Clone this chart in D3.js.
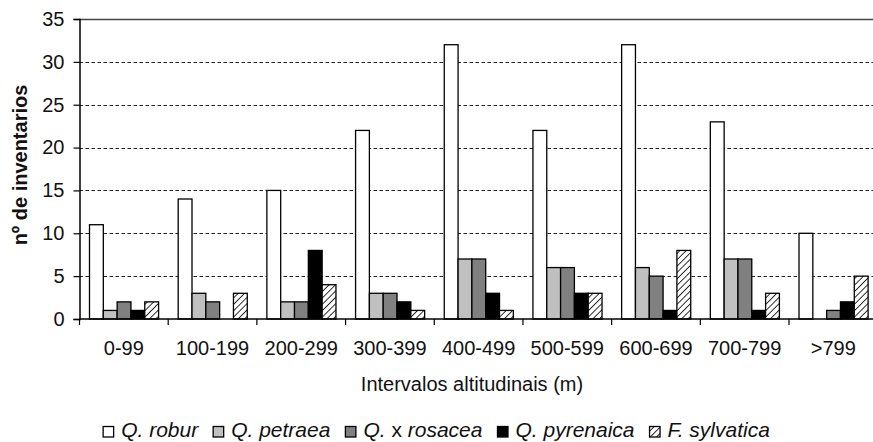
<!DOCTYPE html>
<html>
<head>
<meta charset="utf-8">
<script src="https://cdn.jsdelivr.net/npm/d3@7"></script>
<style>
  html, body { margin: 0; padding: 0; background: #fff; }
  svg { display: block; font-family: Arial, "Liberation Sans", sans-serif; }
</style>
</head>
<body>
<svg id="chart" width="873" height="442"></svg>
<script>
const categories = ["0-99", "100-199", "200-299", "300-399", "400-499", "500-599", "600-699", "700-799", ">799"];
const seriesNames = ["Q. robur", "Q. petraea", "Q. x rosacea", "Q. pyrenaica", "F. sylvatica"];
const robur     = [11, 14, 15, 22, 32, 22, 32, 23, 10];
const petraea   = [1, 3, 2, 3, 7, 6, 6, 7, 0];
const rosacea   = [2, 2, 2, 3, 7, 6, 5, 7, 1];
const pyrenaica = [1, 0, 8, 2, 3, 3, 1, 1, 2];
const sylvatica = [2, 3, 4, 1, 1, 3, 8, 3, 5];
const yTicks = [0, 5, 10, 15, 20, 25, 30, 35];
const xTitle = "Intervalos altitudinais (m)";
const yTitle = "nº de inventarios";

(function () {
const seriesValues = [robur, petraea, rosacea, pyrenaica, sylvatica];
const fills = ["#ffffff", "#c0c0c0", "#808080", "#000000", "url(#hatch)"];

const svg = d3.select("#chart");
const W = 873;
const mLeft = 79.5, mRight = 877.7, mTop = 19, mBottom = 319;

const defs = svg.append("defs");
const pat = defs.append("pattern")
  .attr("id", "hatch").attr("patternUnits", "userSpaceOnUse")
  .attr("width", 4.5).attr("height", 4.5)
  .attr("patternTransform", "rotate(45)");
pat.append("rect").attr("width", 4.5).attr("height", 4.5).attr("fill", "#fff");
pat.append("line").attr("x1", 0).attr("y1", 0).attr("x2", 0).attr("y2", 4.5)
  .attr("stroke", "#000").attr("stroke-width", 1.6);

const x0 = d3.scaleBand().domain(categories).range([mLeft, mRight]).paddingInner(0).paddingOuter(0);
const x1 = d3.scaleBand().domain(d3.range(seriesNames.length))
  .range([10, x0.bandwidth() - 9.6]).padding(0);
const y = d3.scaleLinear().domain([0, 35]).range([mBottom, mTop]);

// gridlines
svg.append("g").selectAll("line").data(yTicks.filter(t => t > 0))
  .join("line")
  .attr("x1", mLeft).attr("x2", W)
  .attr("y1", d => Math.round(y(d)) + 0.5).attr("y2", d => Math.round(y(d)) + 0.5)
  .attr("stroke", d => d === 35 ? "#444" : "#222")
  .attr("stroke-width", d => d === 35 ? 1.6 : 1.2)
  .attr("stroke-dasharray", d => d === 35 ? null : "3.5,2.5");

// bars
const groups = svg.append("g").selectAll("g").data(categories).join("g")
  .attr("transform", d => `translate(${x0(d)},0)`);
groups.selectAll("rect")
  .data((c, ci) => seriesValues.map((vals, si) => ({ si, v: vals[ci] })).filter(d => d.v > 0))
  .join("rect")
  .attr("x", d => x1(d.si))
  .attr("width", x1.bandwidth())
  .attr("y", d => y(d.v))
  .attr("height", d => y(0) - y(d.v))
  .attr("fill", d => fills[d.si])
  .attr("stroke", "#000").attr("stroke-width", 1.3);

// y axis
const yAxis = d3.axisLeft(y).tickValues(yTicks).tickSize(6).tickPadding(9);
const gy = svg.append("g").attr("transform", `translate(${mLeft},0)`).call(yAxis);
gy.select(".domain").attr("stroke", "#000").attr("stroke-width", 1.5);
gy.selectAll(".tick line").attr("stroke", "#000").attr("stroke-width", 1.2);
gy.selectAll(".tick text").attr("font-size", 20).attr("fill", "#111")
  .attr("font-family", "Arial, 'Liberation Sans', sans-serif");

// x axis line and ticks at band boundaries
svg.append("line").attr("x1", mLeft).attr("x2", W).attr("y1", mBottom).attr("y2", mBottom)
  .attr("stroke", "#000").attr("stroke-width", 1.5);
svg.append("g").selectAll("line").data(categories).join("line")
  .attr("x1", d => x0(d)).attr("x2", d => x0(d))
  .attr("y1", mBottom).attr("y2", mBottom + 6)
  .attr("stroke", "#000").attr("stroke-width", 1.2);
svg.append("g").selectAll("text").data(categories).join("text")
  .attr("x", d => x0(d) + x0.bandwidth() / 2)
  .attr("y", 355)
  .attr("text-anchor", "middle")
  .attr("font-size", 20).attr("fill", "#111")
  .text(d => d);

// axis titles
svg.append("text").attr("x", 472).attr("y", 391).attr("text-anchor", "middle")
  .attr("font-size", 20).attr("fill", "#111").text(xTitle);
svg.append("text")
  .attr("transform", "translate(27,165) rotate(-90)")
  .attr("text-anchor", "middle").attr("font-size", 20).attr("font-weight", "bold")
  .attr("fill", "#111").text(yTitle);

// legend
const leg = svg.append("g");
const items = leg.selectAll("g").data(seriesNames).join("g");
items.append("rect").attr("width", 10.5).attr("height", 10.5).attr("y", -10.5)
  .attr("fill", (d, i) => fills[i]).attr("stroke", "#000").attr("stroke-width", 1.3);
const txt = items.append("text").attr("x", 18).attr("y", 0)
  .attr("font-size", 21).attr("fill", "#111");
txt.each(function(d) {
  const t = d3.select(this);
  const parts = d.split(" x ");
  if (parts.length === 2) {
    t.append("tspan").attr("font-style", "italic").text(parts[0] + " ");
    t.append("tspan").text("x ");
    t.append("tspan").attr("font-style", "italic").text(parts[1]);
  } else {
    t.append("tspan").attr("font-style", "italic").text(d);
  }
});
let cx = 0;
const offs = [];
items.each(function() {
  const tw = d3.select(this).select("text").node().getComputedTextLength();
  offs.push(cx);
  cx += 18 + tw + 15;
});
const total = cx - 15;
items.attr("transform", (d, i) => `translate(${offs[i]},0)`);
leg.attr("transform", `translate(${(W - total) / 2},437)`);
})();
</script>
</body>
</html>
